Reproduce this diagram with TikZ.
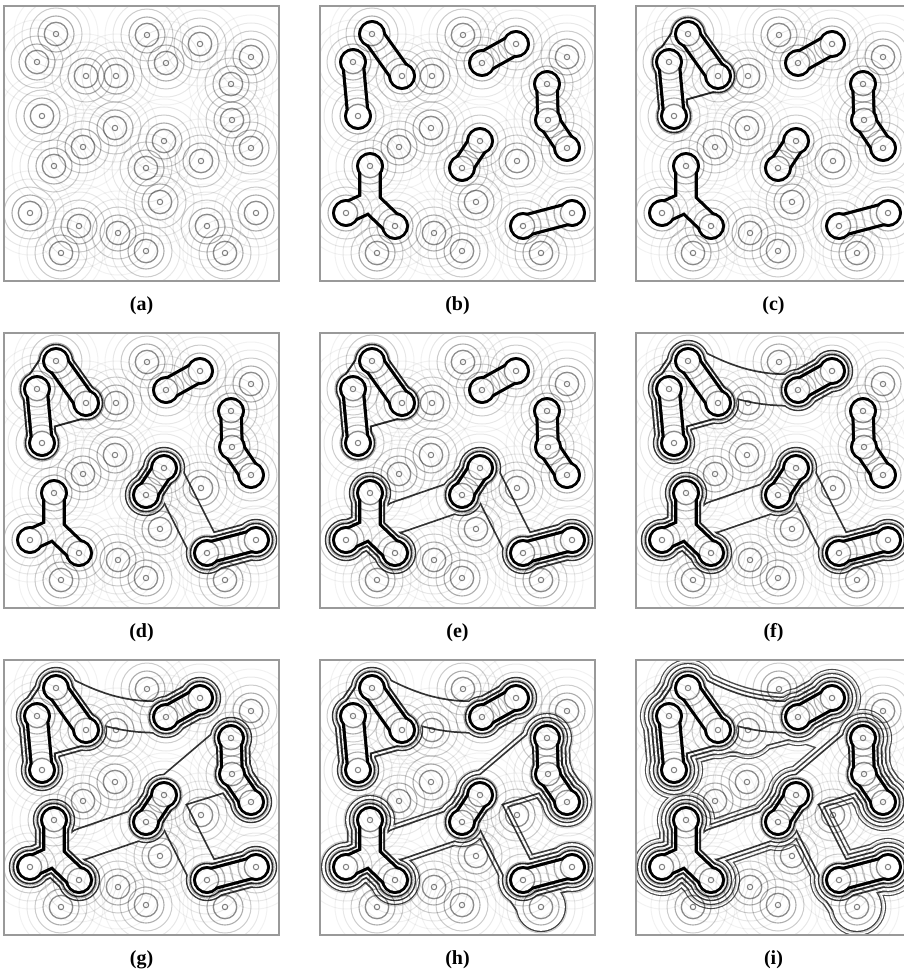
\documentclass[tikz,border=0pt]{standalone}
\usepackage{fontspec}
\setmainfont{Liberation Serif}

\tikzset{
  frameline/.style={draw=black!40, line width=1.3pt},
  sublabel/.style={font=\fontsize{20}{22}\selectfont\bfseries},
  lobeline/.style={line cap=round, line join=round},
}

% the 27 centres, in pixels from the top left corner of a panel
\newcommand\setpoints{%
  \coordinate (p1) at (52,28);   \coordinate (p2) at (33,56);
  \coordinate (p3) at (82,70);   \coordinate (p4) at (112,70);
  \coordinate (p5) at (143,29);  \coordinate (p6) at (162,57);
  \coordinate (p7) at (196,38);  \coordinate (p8) at (247,51);
  \coordinate (p9) at (227,78);  \coordinate (p10) at (38,110);
  \coordinate (p11) at (111,122);\coordinate (p12) at (228,114);
  \coordinate (p13) at (79,141); \coordinate (p14) at (160,135);
  \coordinate (p15) at (247,142);\coordinate (p16) at (50,160);
  \coordinate (p17) at (142,162);\coordinate (p18) at (197,155);
  \coordinate (p19) at (156,196);\coordinate (p20) at (26,207);
  \coordinate (p21) at (252,207);\coordinate (p22) at (75,220);
  \coordinate (p23) at (114,227);\coordinate (p24) at (203,220);
  \coordinate (p25) at (57,247); \coordinate (p26) at (142,245);
  \coordinate (p27) at (221,247);
  \coordinate (fc) at (50,196);  \coordinate (ab) at (56,51);
  \coordinate (bq) at (46,80);   \coordinate (fe) at (78,184);
  \coordinate (dq) at (205,109);
}

% contour of level #1: round lobes #2, necks #3, longer links #4
\newcommand\contour[4]{%
  \pgfmathsetmacro\crad{8.5+4*#1}
  \pgfmathsetmacro\cth{#1==1 ? 2.8 : 1.9-0.15*#1}
  \pgfmathtruncatemacro\cgray{#1==1 ? 100 : 95-5*#1}
  \pgfmathsetmacro\rout{\crad+\cth/2}
  \pgfmathsetmacro\rin{\crad-\cth/2}
  \pgfmathsetmacro\wout{2*(\crad-2.5)+\cth+0.8}
  \pgfmathsetmacro\win{2*(\crad-2.5)-\cth}
  \pgfmathsetmacro\lout{2*(\crad-5)+\cth+0.6}
  \pgfmathsetmacro\lin{2*(\crad-5)-\cth}
  \foreach \q in {#2} \fill[black!\cgray] (\q) circle (\rout);
  \draw[black!\cgray, lobeline, line width=\wout pt] #3;
  \draw[black!\cgray, lobeline, line width=\lout pt] #4;
  \foreach \q in {#2} \fill[white] (\q) circle (\rin);
  \draw[white, lobeline, line width=\win pt] #3;
  \draw[white, lobeline, line width=\lin pt] #4;
}

\newcommand\grpA[1]{\contour{#1}{p1,p3}{(p1)--(p3)}{}}
\newcommand\grpB[1]{\contour{#1}{p2,p10}{(p2)--(p10)}{}}
\newcommand\grpC[1]{\contour{#1}{p6,p7}{(p6)--(p7)}{}}
\newcommand\grpD[1]{\contour{#1}{p9,p12,p15}{(p9)--(p12)--(p15)}{}}
\newcommand\grpE[1]{\contour{#1}{p14,p17}{(p14)--(p17)}{}}
\newcommand\grpF[1]{\contour{#1}{p16,p20,p22}{(p16)--(fc)--(p20) (fc)--(p22)}{}}
\newcommand\grpG[1]{\contour{#1}{p24,p21}{(p24)--(p21)}{}}
\newcommand\grpAB[1]{\contour{#1}{p1,p3,p2,p10,ab}{(p1)--(p3) (p2)--(p10) (p1)--(p2)--(p3) (p3)--(bq)}{}}
\newcommand\grpEG[1]{\contour{#1}{p14,p17,p24,p21}{(p14)--(p17) (p24)--(p21)}{(p14)--(p24)}}
\newcommand\grpEFG[1]{\contour{#1}{p14,p17,p24,p21,p16,p20,p22}{(p14)--(p17) (p24)--(p21)
  (p16)--(fc)--(p20) (fc)--(p22)}{(p14)--(p24) (fe)--(p17)}}
\newcommand\grpABC[1]{\contour{#1}{p1,p3,p2,p10,ab,p6,p7}{(p1)--(p3) (p2)--(p10) (p1)--(p2)--(p3) (p3)--(bq)
  (p6)--(p7)}{(p1) .. controls (95,52) and (125,58) .. (p6)}}
\newcommand\grpDEFG[1]{\contour{#1}{p9,p12,p15,p14,p17,p24,p21,p16,p20,p22,dq}{(p9)--(p12)--(p15)
  (p14)--(p17) (p24)--(p21) (p16)--(fc)--(p20) (fc)--(p22)}{(p14)--(p24) (fe)--(p17) (p12)--(p14)--(p9)}}
\newcommand\grpDEFGK[1]{\contour{#1}{p9,p12,p15,p14,p17,p24,p21,p27,p16,p20,p22,dq}{(p9)--(p12)--(p15)
  (p14)--(p17) (p24)--(p21) (p16)--(fc)--(p20) (fc)--(p22) (p24)--(p27)}{(p14)--(p24) (fe)--(p17)
  (p12)--(p14)--(p9)}}
\newcommand\grpABCK[1]{\contour{#1}{p1,p3,p2,p10,ab,p6,p7,p4}{(p1)--(p3) (p2)--(p10) (p1)--(p2)--(p3) (p3)--(bq)
  (p6)--(p7) (p3)--(p4)}{(p1) .. controls (95,52) and (125,58) .. (p6) (p4)--(p6)}}
\newcommand\grpall[1]{\contour{#1}{p1,p3,p2,p10,ab,p6,p7,p4,p9,p12,p15,p14,p17,p24,p21,p27,p16,p20,p22,dq}{(p1)--(p3)
  (p2)--(p10) (p1)--(p2)--(p3) (p3)--(bq) (p6)--(p7) (p3)--(p4) (p9)--(p12)--(p15) (p14)--(p17) (p24)--(p21)
  (p16)--(fc)--(p20) (fc)--(p22) (p24)--(p27)}{(p1) .. controls (95,52) and (125,58) .. (p6) (p4)--(p6)
  (p6)--(p9) (p14)--(p24) (fe)--(p17) (p12)--(p14)--(p9)}}

\newcommand\basegroups{\grpA1\grpB1\grpC1\grpD1\grpE1\grpF1\grpG1}
\newcommand\secondlevel{\grpAB2\grpC2\grpD2\grpE2\grpF2\grpG2}

\newcommand\rings{%
  \foreach \q in {1,...,27} {
    \draw[black, draw opacity=.05, line width=1pt] (p\q) circle (42);
    \draw[black, draw opacity=.09, line width=1pt] (p\q) circle (34);
    \draw[black, draw opacity=.2, line width=1pt] (p\q) circle (26);
    \draw[black, draw opacity=.32, line width=1.1pt] (p\q) circle (18);
    \draw[black, draw opacity=.45, line width=1.3pt] (p\q) circle (11.7);
    \draw[black, draw opacity=.5, line width=1pt] (p\q) circle (2.7);
  }}

\newcommand\panel[4]{%
  \begin{scope}[shift={(#1,#2)}]
    \setpoints
    \begin{scope}
      \clip (0,0) rectangle (275,275);
      #4
      \rings
    \end{scope}
    \draw[frameline] (0,0) rectangle (275,275);
    \node[sublabel] (lab#3) at (137.5,300) {(#3)};
  \end{scope}}

\begin{document}
\begin{tikzpicture}[x=1pt, y=-1pt]
  \useasboundingbox (0,0) rectangle (903,971);
  \fill[white] (0,0) rectangle (903,971);
  % top row
  \panel{4}{6}{a}{}
  \panel{320}{6}{b}{\basegroups}
  \panel{636}{6}{c}{\grpAB2\basegroups}
  % middle row
  \panel{4}{333}{d}{\grpEG3\grpAB2\grpE2\grpG2\basegroups}
  \panel{320}{333}{e}{\grpEFG3\grpAB2\grpE2\grpF2\grpG2\basegroups}
  \panel{636}{333}{f}{\grpABC3\grpEFG3\grpAB2\grpC2\grpE2\grpF2\grpG2\basegroups}
  % bottom row
  \panel{4}{660}{g}{\grpABC3\grpDEFG3\secondlevel\basegroups}
  \panel{320}{660}{h}{\grpDEFGK4\grpABC3\grpDEFG3\secondlevel\basegroups}
  \panel{636}{660}{i}{\grpall5\grpABCK4\grpDEFGK4\grpABC3\grpDEFG3\secondlevel\basegroups}
\end{tikzpicture}
\end{document}
